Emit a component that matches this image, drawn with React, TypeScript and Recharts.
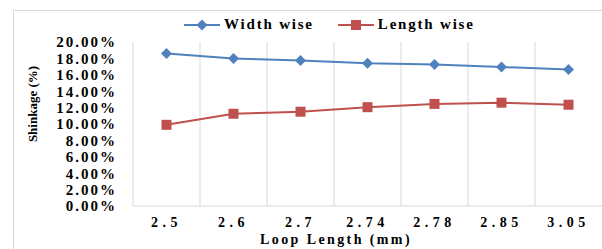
import { LineChart, Line, XAxis, YAxis, CartesianGrid } from 'recharts'

const loopLengths = ['2.5', '2.6', '2.7', '2.74', '2.78', '2.85', '3.05']
const widthWise = [18.6, 18.0, 17.75, 17.4, 17.25, 16.95, 16.65]
const lengthWise = [9.9, 11.25, 11.5, 12.05, 12.45, 12.6, 12.35]
const yTicks = [0, 2, 4, 6, 8, 10, 12, 14, 16, 18, 20]

const BLUE = '#4f81bd'
const RED = '#c0504d'
const GRID = '#d9d9d9'
const FONT = '"Liberation Serif", "Times New Roman", serif'

const data = loopLengths.map((x, i) => ({ x, width: widthWise[i], length: lengthWise[i] }))

// marcador rombo para la serie azul
function Diamond(props: any) {
  const { cx, cy } = props
  if (cx == null || cy == null) return null
  const r = 5.5
  return (
    <polygon
      points={`${cx},${cy - r} ${cx + r},${cy} ${cx},${cy + r} ${cx - r},${cy}`}
      fill={BLUE}
    />
  )
}

function Square(props: any) {
  const { cx, cy } = props
  if (cx == null || cy == null) return null
  return <rect x={cx - 5} y={cy - 5} width={10} height={10} fill={RED} />
}

function LegendItem({ color, label, square }: { color: string; label: string; square?: boolean }) {
  return (
    <div style={{ display: 'flex', alignItems: 'center' }}>
      <svg width={36} height={12}>
        <line x1={0} y1={6} x2={36} y2={6} stroke={color} strokeWidth={2} />
        {square ? (
          <rect x={13} y={1} width={10} height={10} fill={color} />
        ) : (
          <polygon points="18,0.5 23.5,6 18,11.5 12.5,6" fill={color} />
        )}
      </svg>
      <span style={{ marginLeft: 4, fontWeight: 'bold', fontSize: 15, letterSpacing: 1.8 }}>{label}</span>
    </div>
  )
}

export default function App() {
  return (
    <div
      style={{
        position: 'absolute',
        left: 0,
        top: 0,
        width: 602,
        height: 249,
        overflow: 'hidden',
        background: '#fff',
        fontFamily: FONT,
        color: '#000',
      }}
    >
      {/* marco del gráfico */}
      <div
        style={{
          position: 'absolute',
          left: 13,
          top: 10,
          width: 700,
          height: 300,
          border: `1px solid ${GRID}`,
        }}
      />
      <LineChart
        width={602}
        height={249}
        data={data}
        margin={{ top: 42, right: 0, bottom: 0, left: 0 }}
        style={{ position: 'absolute', left: 0, top: 0 }}
      >
        <CartesianGrid
          horizontal={false}
          stroke={GRID}
          strokeWidth={1}
          verticalCoordinatesGenerator={({ offset }: any) =>
            loopLengths.map((_, i) => offset.left + (i * offset.width) / loopLengths.length)
          }
        />
        <XAxis
          dataKey="x"
          scale="band"
          height={43}
          tickLine={false}
          tickSize={0}
          tickMargin={11}
          axisLine={{ stroke: GRID }}
          tick={{ fill: '#000', fontSize: 14, fontWeight: 'bold', fontFamily: FONT, letterSpacing: 4.5 }}
        />
        <YAxis
          width={133}
          domain={[0, 20]}
          ticks={yTicks}
          interval={0}
          axisLine={false}
          tickLine={false}
          tickSize={0}
          tickMargin={16}
          tickFormatter={(v: number) => v.toFixed(2) + '%'}
          tick={{ fill: '#000', fontSize: 15, fontWeight: 'bold', fontFamily: FONT, letterSpacing: 2 }}
        />
        <Line
          dataKey="width"
          stroke={BLUE}
          strokeWidth={2}
          dot={<Diamond />}
          isAnimationActive={false}
        />
        <Line
          dataKey="length"
          stroke={RED}
          strokeWidth={2}
          dot={<Square />}
          isAnimationActive={false}
        />
      </LineChart>

      {/* leyenda */}
      <div style={{ position: 'absolute', left: 184, top: 16, display: 'flex', gap: 24 }}>
        <LegendItem color={BLUE} label="Width wise" />
        <LegendItem color={RED} label="Length wise" square />
      </div>

      {/* título eje Y */}
      <div
        style={{
          position: 'absolute',
          left: 33,
          top: 104,
          transform: 'translate(-50%, -50%) rotate(-90deg)',
          whiteSpace: 'nowrap',
          fontWeight: 'bold',
          fontSize: 13,
        }}
      >
        Shinkage (%)
      </div>

      {/* título eje X */}
      <div
        style={{
          position: 'absolute',
          left: 336,
          top: 240,
          transform: 'translate(-50%, -50%)',
          whiteSpace: 'nowrap',
          fontWeight: 'bold',
          fontSize: 14,
          letterSpacing: 2.4,
        }}
      >
        Loop Length (mm)
      </div>
    </div>
  )
}
